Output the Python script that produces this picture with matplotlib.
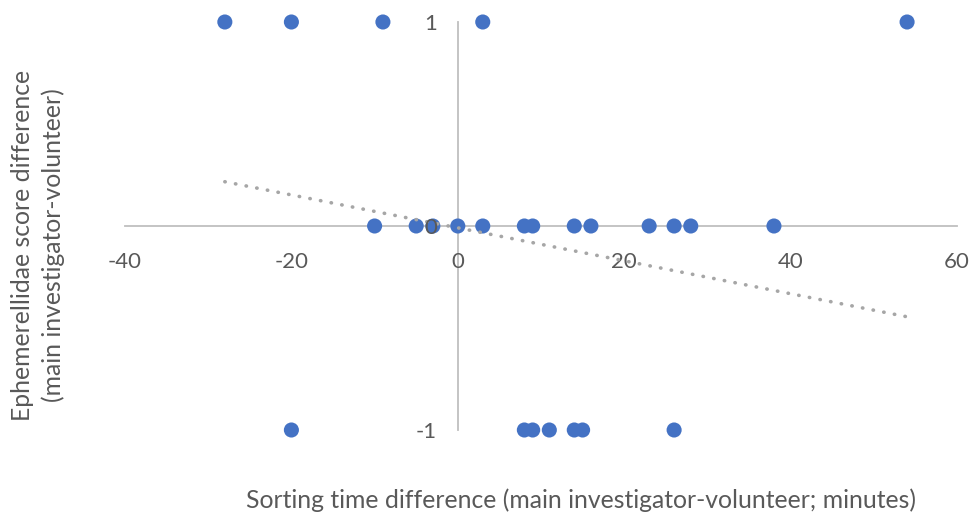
import matplotlib
matplotlib.use('Agg')
import matplotlib.pyplot as plt

# Data
# rows with score difference +1, 0 and -1
x_pos = [-28, -20, -9, 3, 54]
y_pos = [1, 1, 1, 1, 1]
x_zero = [-10, -5, -3, 0, 3, 8, 9, 14, 16, 23, 26, 28, 38]
y_zero = [0] * len(x_zero)
x_neg = [-20, 8, 9, 11, 14, 15, 26]
y_neg = [-1] * len(x_neg)

# linear trendline (endpoints)
trend_x = [-28, 54]
trend_y = [0.217, -0.445]

xticks = [-40, -20, 0, 20, 40, 60]
yticks = [-1, 0, 1]

plt.rcParams['font.family'] = ['Lato', 'DejaVu Sans']
plt.rcParams['axes.unicode_minus'] = False
txt = '#595959'
blue = '#4472C4'

fig = plt.figure(figsize=(9.74, 5.18), dpi=100)
ax = fig.add_axes([125 / 974, 1 - 430 / 518, 832 / 974, 408 / 518])

xs = x_pos + x_zero + x_neg
ys = y_pos + y_zero + y_neg
ax.scatter(xs, ys, s=118, color=blue, edgecolors='none', zorder=3, clip_on=False)
ax.plot(trend_x, trend_y, color='#a6a6a6', lw=2.6, linestyle=(0, (0.1, 2.9)),
        dash_capstyle='round', zorder=4, clip_on=False)

ax.set_xlim(-40, 60)
ax.set_ylim(-1, 1)
ax.set_xticks(xticks)
ax.set_yticks(yticks)

for s in ['top', 'right']:
    ax.spines[s].set_visible(False)
ax.spines['left'].set_position(('data', 0))
ax.spines['bottom'].set_position(('data', 0))
for s in ['left', 'bottom']:
    ax.spines[s].set_color('#bfbfbf')
    ax.spines[s].set_linewidth(1.3)
    ax.spines[s].set_zorder(1)

ax.tick_params(axis='both', length=0, labelsize=16, labelcolor=txt)
ax.tick_params(axis='x', pad=19)
ax.tick_params(axis='y', pad=15)
# y tick labels sit on top of the markers, as in the original
ax.yaxis.set_zorder(5)

fig.text(581 / 974, 1 - 500 / 518, 'Sorting time difference (main investigator-volunteer; minutes)',
         ha='center', va='center', fontsize=17.8, color=txt)
fig.text(38 / 974, 1 - 245 / 518, 'Ephemerellidae score difference\n(main investigator-volunteer)',
         ha='center', va='center', rotation=90, fontsize=17.8, color=txt, linespacing=1.35)

fig.savefig('out.png', dpi=100)
